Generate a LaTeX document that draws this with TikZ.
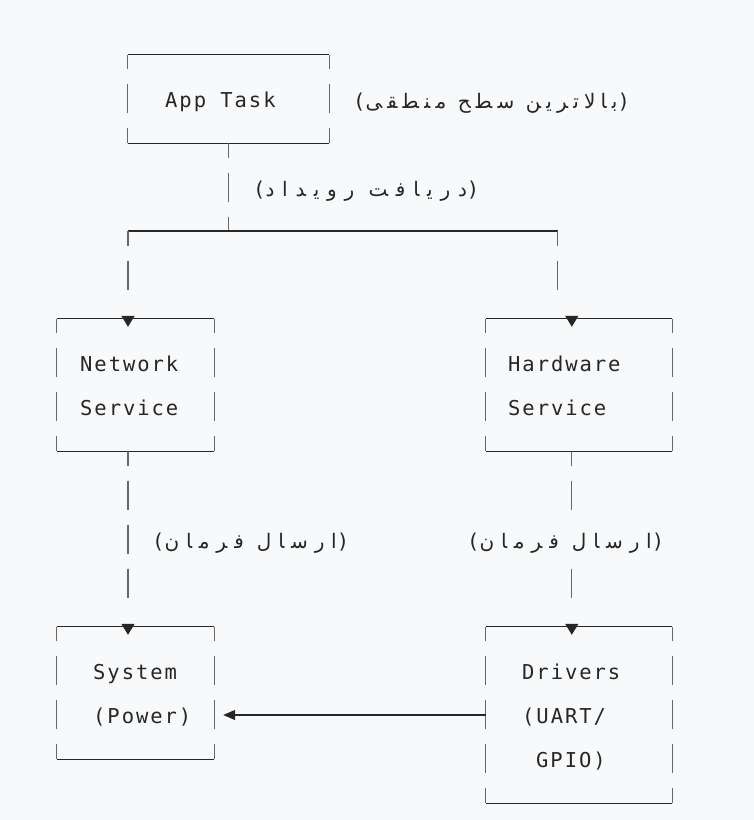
\documentclass[tikz,border=0pt]{standalone}
\usepackage{fontspec}
\usetikzlibrary{arrows.meta,calc}
\newfontfamily\monofont[LetterSpace=9.5]{DejaVu Sans Mono}
\newfontfamily\arabicfont[Script=Arabic,LetterSpace=34]{DejaVu Sans}
\TeXXeTstate=1
\definecolor{paper}{RGB}{248,249,250}
\definecolor{ink}{RGB}{38,38,38}
\newcommand\paren[1]{{\monofont\fontsize{20.5}{24}\selectfont#1}}
\tikzset{
  box/.style={inner sep=0pt},
  rule/.style={draw=ink, line width=1.2pt},
  side/.style={draw=ink!70, line width=1.1pt, dash pattern=on 29pt off 15pt, dash phase=14.5pt},
  drop/.style={draw=ink!70, line width=1.1pt, -{Triangle[width=13pt,length=11pt,color=ink]}},
  mono/.style={font=\monofont\fontsize{20.5}{24}\selectfont, text=ink, inner sep=0pt, anchor=base west},
  arab/.style={font=\arabicfont\fontsize{20}{24}\selectfont, text=ink, inner sep=0pt, anchor=base west}
}
\begin{document}
\begin{tikzpicture}[x=1pt,y=-1pt]
\fill[paper] (0,0) rectangle (754,820);
% boxes
\node[box, minimum width=201pt, minimum height=88pt] (app) at (228.5,99) {};
\node[box, minimum width=157pt, minimum height=132pt] (net) at (135.5,385) {};
\node[box, minimum width=186pt, minimum height=132pt] (hw) at (579,385) {};
\node[box, minimum width=157pt, minimum height=132pt] (sys) at (135.5,693) {};
\node[box, minimum width=186pt, minimum height=176pt] (drv) at (579,715) {};
\foreach \b in {app,net,hw,sys,drv} {
  \draw[rule] (\b.north west) -- (\b.north east) (\b.south west) -- (\b.south east);
  \draw[side] (\b.north west) -- (\b.south west) (\b.north east) -- (\b.south east);
}
% box texts, one line each
\foreach \n/\x/\y/\t in {apptxt/165/99/App Task, net1/80/363/Network, net2/80/407/Service,
    hw1/508/363/Hardware, hw2/508/407/Service, sys1/93/671/System, sys2/93/715/(Power),
    drv1/522/671/Drivers, drv2/522/715/{(UART/}, drv3/536/759/GPIO)}
  \node[mono] (\n) at (\x,\y+8.5) {\t};
% labels
\node[arab] (toplbl) at (353,108) {\addfontfeatures{LetterSpace=26}\paren(\beginR بالاترین سطح منطقی\endR\paren)};
\node[arab] (evtlbl) at (253,196) {\addfontfeatures{LetterSpace=39}\paren(\beginR دریافت رویداد\endR\paren)};
\node[arab] (cmdl) at (152,548) {\paren(\beginR ارسال فرمان\endR\paren)};
\node[arab] (cmdr) at (467,548) {\paren(\beginR ارسال فرمان\endR\paren)};
% connectors
\coordinate (lft) at (128,231);
\coordinate (rgt) at (557.5,231);
\draw[side] (app.south) -- (app.south |- lft);
\draw[rule] (lft) -- (rgt);
\draw[drop, dash pattern=on 14.5pt off 15pt on 29pt off 99pt] (lft) -- ([xshift=-7.5pt,yshift=-8pt]net.north);
\draw[drop, dash pattern=on 14.5pt off 15pt on 29pt off 99pt] (rgt) -- ++(0,65) -- ([xshift=-7.2pt,yshift=12pt]hw.north) -- ([xshift=-7.2pt,yshift=-8pt]hw.north);
\draw[drop, dash pattern=on 14.5pt off 15pt on 29pt off 15pt on 29pt off 15pt on 29pt off 99pt] (net.south -| lft) -- ([xshift=-7.5pt,yshift=-8pt]sys.north);
\draw[drop, dash pattern=on 14.5pt off 15pt on 29pt off 59pt on 29pt off 99pt] ([xshift=-7.2pt]hw.south) -- ([xshift=-7.2pt,yshift=-8pt]drv.north);
\draw[rule, -{Triangle[width=10pt,length=12pt]}] (drv.west) -- ($(sys.east |- drv.west)+(9,0)$);
\end{tikzpicture}
\end{document}
